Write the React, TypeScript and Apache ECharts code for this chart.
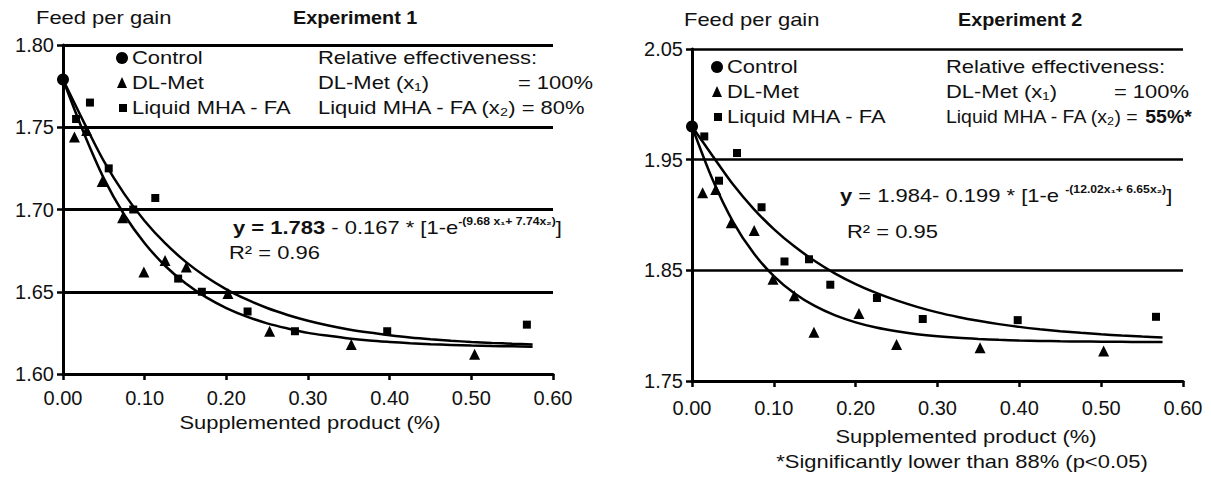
import React, { useEffect, useRef } from 'react';
import * as echarts from 'echarts';

// ---------- data ----------
const xTickStep = 0.1;
const xMin = 0;
const xMax = 0.6;

const exp1YMin = 1.6;
const exp1YMax = 1.8;
const exp1YStep = 0.05;

const exp2YMin = 1.75;
const exp2YMax = 2.05;
const exp2YStep = 0.1;

// Experiment 1
const exp1Control = [[0, 1.779]];
const exp1DLMet = [
  [0.014, 1.744], [0.029, 1.748], [0.048, 1.717], [0.073, 1.695], [0.099, 1.662],
  [0.125, 1.669], [0.151, 1.665], [0.202, 1.649], [0.253, 1.626], [0.353, 1.618], [0.504, 1.612],
];
const exp1MHA = [
  [0.016, 1.755], [0.033, 1.765], [0.056, 1.725], [0.086, 1.700], [0.113, 1.707],
  [0.141, 1.658], [0.170, 1.650], [0.226, 1.638], [0.284, 1.626], [0.397, 1.626], [0.568, 1.630],
];
// fitted curves, read every 0.025 along the drawn lines
const curveX = [
  0, 0.025, 0.05, 0.075, 0.1, 0.125, 0.15, 0.175, 0.2, 0.225, 0.25, 0.275,
  0.3, 0.325, 0.35, 0.375, 0.4, 0.425, 0.45, 0.475, 0.5, 0.525, 0.55, 0.575,
];
const exp1DLCurveY = [
  1.7790, 1.7471, 1.7189, 1.6968, 1.6795, 1.6658, 1.6551, 1.6467, 1.6401, 1.6349, 1.6308, 1.6277,
  1.6250, 1.6232, 1.6216, 1.6204, 1.6195, 1.6187, 1.6181, 1.6177, 1.6173, 1.6170, 1.6168, 1.6166,
];
const exp1MHACurveY = [
  1.7790, 1.7536, 1.7294, 1.7095, 1.6930, 1.6795, 1.6683, 1.6591, 1.6515, 1.6453, 1.6401, 1.6359,
  1.6324, 1.6295, 1.6271, 1.6252, 1.6236, 1.6222, 1.6211, 1.6202, 1.6195, 1.6189, 1.6184, 1.6180,
];

// Experiment 2
const exp2Control = [[0, 1.980]];
const exp2DLMet = [
  [0.013, 1.920], [0.029, 1.923], [0.048, 1.893], [0.076, 1.886], [0.099, 1.842],
  [0.125, 1.827], [0.149, 1.794], [0.204, 1.811], [0.250, 1.783], [0.352, 1.780], [0.503, 1.777],
];
const exp2MHA = [
  [0.015, 1.971], [0.033, 1.931], [0.055, 1.956], [0.085, 1.907], [0.113, 1.858],
  [0.143, 1.860], [0.169, 1.837], [0.226, 1.825], [0.282, 1.806], [0.398, 1.805], [0.567, 1.808],
];
const exp2DLCurveY = [
  1.9800, 1.9323, 1.8941, 1.8658, 1.8448, 1.8293, 1.8178, 1.8093, 1.8030, 1.7983, 1.7949, 1.7923,
  1.7904, 1.7890, 1.7880, 1.7872, 1.7866, 1.7862, 1.7859, 1.7857, 1.7855, 1.7854, 1.7853, 1.7852,
];
const exp2MHACurveY = [
  1.9800, 1.9536, 1.9277, 1.9058, 1.8873, 1.8717, 1.8584, 1.8471, 1.8376, 1.8296, 1.8228, 1.8170,
  1.8120, 1.8079, 1.8044, 1.8014, 1.7989, 1.7968, 1.7950, 1.7935, 1.7922, 1.7911, 1.7901, 1.7893,
];

const legendNames = ['Control', 'DL-Met', 'Liquid MHA - FA'];

// ---------- styling ----------
const FONT = 'Liberation Sans, Arial, Helvetica, sans-serif';
const SX = 1.22;
const INK = '#111';

function txt(text: string, x: number, y: number, opts: any = {}) {
  const align = opts.align || 'left';
  return {
    type: 'text',
    x,
    y,
    scaleX: opts.sx ?? SX,
    silent: true,
    z: 100,
    style: {
      text,
      fontSize: opts.size ?? 18,
      fontFamily: FONT,
      fontWeight: opts.bold ? 'bold' : 'normal',
      fill: INK,
      textAlign: align,
      align,
      textVerticalAlign: 'middle',
      verticalAlign: 'middle',
      rich: opts.rich,
    },
  };
}

const richEq = {
  b: { fontSize: 18, fontFamily: FONT, fontWeight: 'bold', fill: INK, lineHeight: 24 },
  n: { fontSize: 18, fontFamily: FONT, fill: INK, lineHeight: 24 },
  sup: { fontSize: 10, fontFamily: FONT, fontWeight: 'bold', fill: INK, lineHeight: 12, verticalAlign: 'top' },
};

function legendMarks(cx: number, y0: number, dy: number) {
  return [
    { type: 'circle', silent: true, z: 100, shape: { cx, cy: y0, r: 6 }, style: { fill: '#000' } },
    {
      type: 'polygon', silent: true, z: 100,
      shape: { points: [[cx, y0 + dy - 6], [cx - 5, y0 + dy + 5], [cx + 5, y0 + dy + 5]] },
      style: { fill: '#000' },
    },
    { type: 'rect', silent: true, z: 100, shape: { x: cx - 3, y: y0 + 2 * dy - 4, width: 8, height: 8 }, style: { fill: '#000' } },
  ];
}

function xAxisCfg(gridIndex: number, margin: number) {
  return {
    type: 'value',
    gridIndex,
    min: xMin,
    max: xMax,
    interval: xTickStep,
    axisLine: { show: true, onZero: false, lineStyle: { color: '#000', width: 3 } },
    axisTick: { show: true, length: 6, lineStyle: { color: '#000', width: 2.5 } },
    axisLabel: { color: INK, fontSize: 20, fontFamily: FONT, margin, formatter: (v: number) => v.toFixed(2) },
    splitLine: { show: false },
  };
}

function yAxisCfg(gridIndex: number, min: number, max: number, interval: number, gw: number) {
  return {
    type: 'value',
    gridIndex,
    min,
    max,
    interval,
    axisLine: { show: true, onZero: false, lineStyle: { color: '#000', width: 3 } },
    axisTick: { show: true, length: 6, lineStyle: { color: '#000', width: 2.5 } },
    axisLabel: { color: INK, fontSize: 20, fontFamily: FONT, margin: 9, formatter: (v: number) => v.toFixed(2) },
    splitLine: { show: true, lineStyle: { color: '#000', width: gw } },
  };
}

function scatter(name: string, data: number[][], idx: number, symbol: string, size: number) {
  return {
    type: 'scatter', name, data, xAxisIndex: idx, yAxisIndex: idx,
    symbol, symbolSize: size, itemStyle: { color: '#000', opacity: 1 }, z: 5,
  };
}

function curve(name: string, ys: number[], idx: number) {
  return {
    type: 'line', name, data: curveX.map((x, i) => [x, ys[i]]), xAxisIndex: idx, yAxisIndex: idx,
    smooth: 0.3, showSymbol: false, symbol: 'none',
    lineStyle: { color: '#000', width: 2.5 }, z: 3,
  };
}

export default function App() {
  const ref = useRef<HTMLDivElement>(null);

  useEffect(() => {
    if (!ref.current) return;
    const chart = echarts.init(ref.current, null, { renderer: 'svg' });

    const L1 = 58; // first legend row, experiment 1
    const L2 = 67; // first legend row, experiment 2
    const DY = 25;

    const graphic: any[] = [
      // Experiment 1 texts
      txt('Feed per gain', 36, 18),
      txt('Experiment 1', 293, 18, { bold: true, sx: 1.1 }),
      ...legendMarks(122, L1, DY),
      txt(legendNames[0], 132, L1),
      txt(legendNames[1], 132, L1 + DY),
      txt(legendNames[2], 132, L1 + 2 * DY),
      txt('Relative effectiveness:', 318, L1),
      txt('DL-Met (x\u2081)', 318, L1 + DY),
      txt('= 100%', 593, L1 + DY, { align: 'right' }),
      txt('Liquid MHA - FA (x\u2082) = 80%', 318, L1 + 2 * DY),
      txt('{b|y = 1.783}{n| - 0.167 * [1-e}{sup|-(9.68 x\u2081+ 7.74x\u2082)}{n|]}', 233, 228, { rich: richEq }),
      txt('R\u00b2 = 0.96', 229, 253),
      txt('Supplemented product (%)', 310, 423, { align: 'center' }),

      // Experiment 2 texts
      txt('Feed per gain', 684, 20),
      txt('Experiment 2', 958, 20, { bold: true, sx: 1.1 }),
      ...legendMarks(717, L2, DY),
      txt(legendNames[0], 727, L2),
      txt(legendNames[1], 727, L2 + DY),
      txt(legendNames[2], 727, L2 + 2 * DY),
      txt('Relative effectiveness:', 946, L2),
      txt('DL-Met (x\u2081)', 946, L2 + DY),
      txt('= 100%', 1189, L2 + DY, { align: 'right' }),
      txt('Liquid MHA - FA (x\u2082) = {b|55%*}', 946, L2 + 2 * DY, {
        sx: 1.08,
        rich: { b: { fontSize: 18, fontFamily: FONT, fontWeight: 'bold', fill: INK } },
      }),
      txt('{b|y}{n| = 1.984- 0.199 * [1-e }{sup|-(12.02x\u2081+ 6.65x\u2082)}{n|]}', 840, 196, { rich: richEq }),
      txt('R\u00b2 = 0.95', 847, 232),
      txt('Supplemented product (%)', 966, 437, { align: 'center' }),
      txt('*Significantly lower than 88% (p<0.05)', 962, 462, { align: 'center' }),
    ];

    chart.setOption({
      animation: false,
      backgroundColor: '#fff',
      grid: [
        { left: 63, top: 45, width: 490, height: 329, containLabel: false },
        { left: 692, top: 49, width: 491, height: 332, containLabel: false },
      ],
      xAxis: [xAxisCfg(0, 14), xAxisCfg(1, 17)],
      yAxis: [
        yAxisCfg(0, exp1YMin, exp1YMax, exp1YStep, 3),
        yAxisCfg(1, exp2YMin, exp2YMax, exp2YStep, 2.5),
      ],
      series: [
        curve('Exp1 DL-Met fit', exp1DLCurveY, 0),
        curve('Exp1 Liquid MHA - FA fit', exp1MHACurveY, 0),
        scatter(legendNames[0], exp1Control, 0, 'circle', 12),
        scatter(legendNames[1], exp1DLMet, 0, 'triangle', 11),
        scatter(legendNames[2], exp1MHA, 0, 'rect', 8),
        curve('Exp2 DL-Met fit', exp2DLCurveY, 1),
        curve('Exp2 Liquid MHA - FA fit', exp2MHACurveY, 1),
        scatter(legendNames[0] + ' ', exp2Control, 1, 'circle', 12),
        scatter(legendNames[1] + ' ', exp2DLMet, 1, 'triangle', 11),
        scatter(legendNames[2] + ' ', exp2MHA, 1, 'rect', 8),
      ],
      graphic,
    });

    return () => chart.dispose();
  }, []);

  return (
    <div
      ref={ref}
      style={{ position: 'absolute', left: 0, top: 0, width: '1211px', height: '477px', background: '#fff' }}
    />
  );
}
